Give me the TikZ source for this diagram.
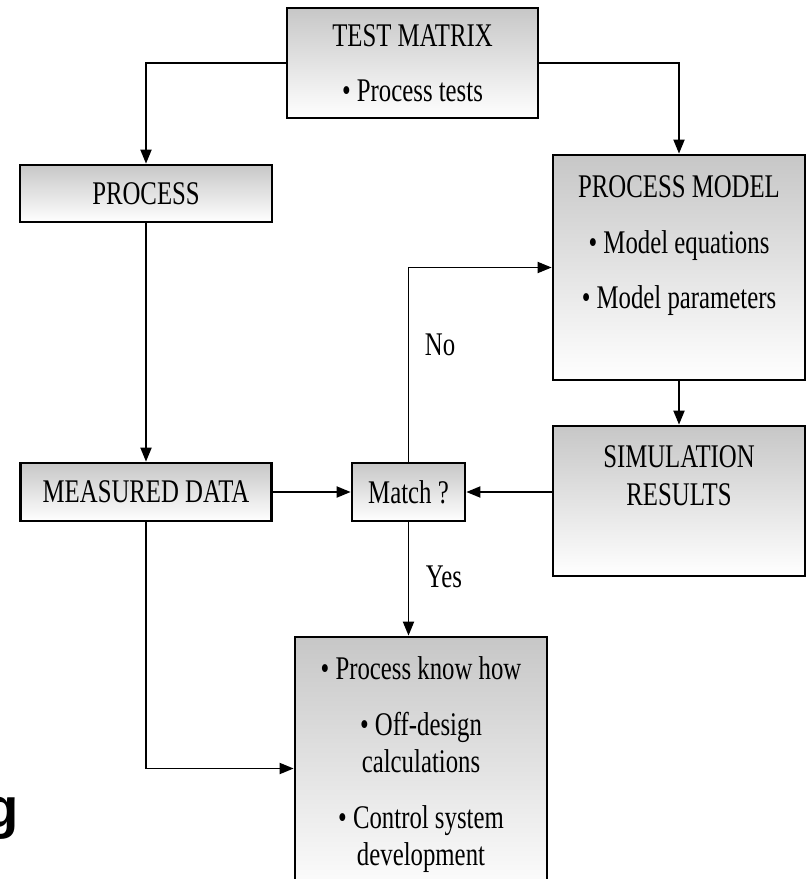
\documentclass[tikz,border=0pt]{standalone}
\usepackage{fontspec}
\setmainfont{Liberation Serif}[FakeStretch=0.75]
\newfontfamily\fragfont{Liberation Sans}
\usetikzlibrary{arrows.meta}

\tikzset{
  box/.style={draw, line width=2pt, top color=black!22, bottom color=white, inner sep=0pt},
  txt/.style={align=center, inner sep=0pt, font=\fontsize{23.5}{26.5}\selectfont},
  arr/.style={line width=1pt, -{Triangle[length=10pt,width=8pt]}}
}

\begin{document}
\begin{tikzpicture}[x=0.025cm,y=-0.025cm]
	\useasboundingbox (0,0) rectangle (807,879);

	% Draw boxes
	\node[box, txt, minimum width=6.275cm, minimum height=2.75cm] (tm) at (412.5,63) {TEST MATRIX\\[13pt]• Process tests};
	\node[box, txt, minimum width=6.3cm, minimum height=1.425cm] (proc) at (146,193.5) {PROCESS};
	\node[box, minimum width=6.3cm, minimum height=5.625cm] (pm) at (679,267.5) {};
	\node[txt, anchor=north] (pmtext) at ([yshift=-0.55cm]pm.north) {PROCESS MODEL\\[13pt]• Model equations\\[13pt]• Model parameters};
	\node[box, minimum width=6.3cm, minimum height=3.75cm] (sim) at (679,501) {};
	\node[txt, anchor=north] (simtext) at ([yshift=-0.525cm]sim.north) {SIMULATION\\RESULTS};
	\node[box, txt, minimum width=6.275cm, minimum height=1.45cm] (md) at (146,492) {MEASURED DATA};
	\node[box, txt, minimum width=2.825cm, minimum height=1.45cm] (match) at (408.5,492) {Match ?};
	\node[box, minimum width=6.3cm, minimum height=6.575cm] (out) at (421,768.5) {};
	\node[txt, anchor=north] (outtext) at ([yshift=-0.525cm]out.north) {• Process know how\\[13pt]• Off-design\\calculations\\[13pt]• Control system\\development};

	% Draw connectors
	\draw[arr] (tm.west) -| (proc.north);
	\draw[arr] (tm.east) -| (pm.north);
	\draw[arr] (proc.south) -- (proc.south |- md.north);
	\draw[arr] (pm.south) -- (sim.north);
	\draw[arr] (md.east) -- (match.west);
	\draw[arr] (sim.west |- match.east) -- (match.east);
	\draw[arr] (match.north) |- (pm.west);
	\draw[arr] (match.south) -- (match.south |- out.north);
	\draw[arr] (md.south) |- (out.west);

	\node[txt] (no) at (440,345) {No};
	\node[txt] (yes) at (444,577) {Yes};

	\node[font=\fragfont\bfseries\fontsize{40}{40}\selectfont, anchor=base east, inner sep=0pt] (frag) at (19,827) {g};
\end{tikzpicture}
\end{document}
